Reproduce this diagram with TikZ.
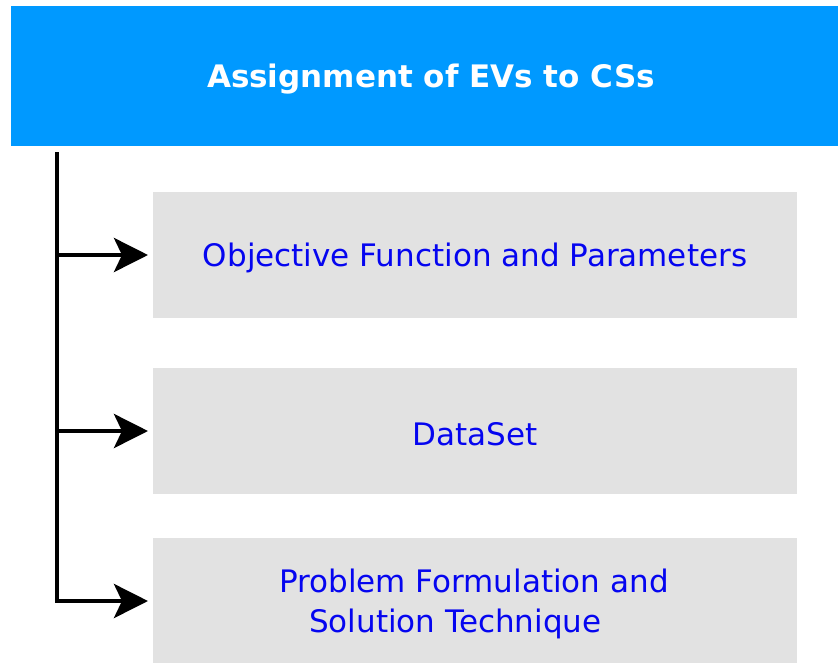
\documentclass[tikz,border=0pt]{standalone}
\usepackage{fontspec}
\setmainfont{DejaVu Sans}
\usetikzlibrary{arrows.meta}
\definecolor{hdr}{RGB}{0,153,255}
\definecolor{boxgray}{RGB}{226,226,226}
\definecolor{txtblue}{RGB}{5,5,240}
\begin{document}
\begin{tikzpicture}[x=1pt,y=-1pt,
  header/.style={fill=hdr,draw=none,minimum width=827pt,minimum height=140pt,inner sep=0pt},
  title/.style={text=white,font=\fontsize{31}{37}\selectfont\bfseries,inner sep=0pt},
  graybox/.style={fill=boxgray,draw=none,minimum width=644pt,minimum height=126pt,inner sep=0pt,anchor=north west},
  label/.style={text=txtblue,font=\fontsize{31}{40}\selectfont,inner sep=0pt},
  conn/.style={line width=4.5pt,-{Stealth[length=34pt,width=34pt,inset=8pt]},shorten >=5pt}]
\useasboundingbox (0,0) rectangle (838,662);
\node[header] (h) at (424.5,76) {};
\node[title] (ht) at (431,79) {Assignment of EVs to CSs};
\node[graybox] (b1) at (153,192) {};
\node[graybox] (b2) at (153,368) {};
\node[graybox] (b3) at (153,538) {};
\node[label] (t1) at (475,258) {Objective Function and Parameters};
\node[label] (t2) at (475,434) {DataSet};
\node[label,align=left,anchor=west] (t3) at (279,604) {Problem Formulation and\\\hspace*{30pt}Solution Technique};
\coordinate (top) at (57,152);
\draw[line width=4.5pt] (top) -- (57,603);
\draw[conn] (57,255) -- (b1.west |- 0,255);
\draw[conn] (57,431) -- (b2.west |- 0,431);
\draw[conn] (54.75,601) -- (b3.west |- 0,601);
\end{tikzpicture}
\end{document}
